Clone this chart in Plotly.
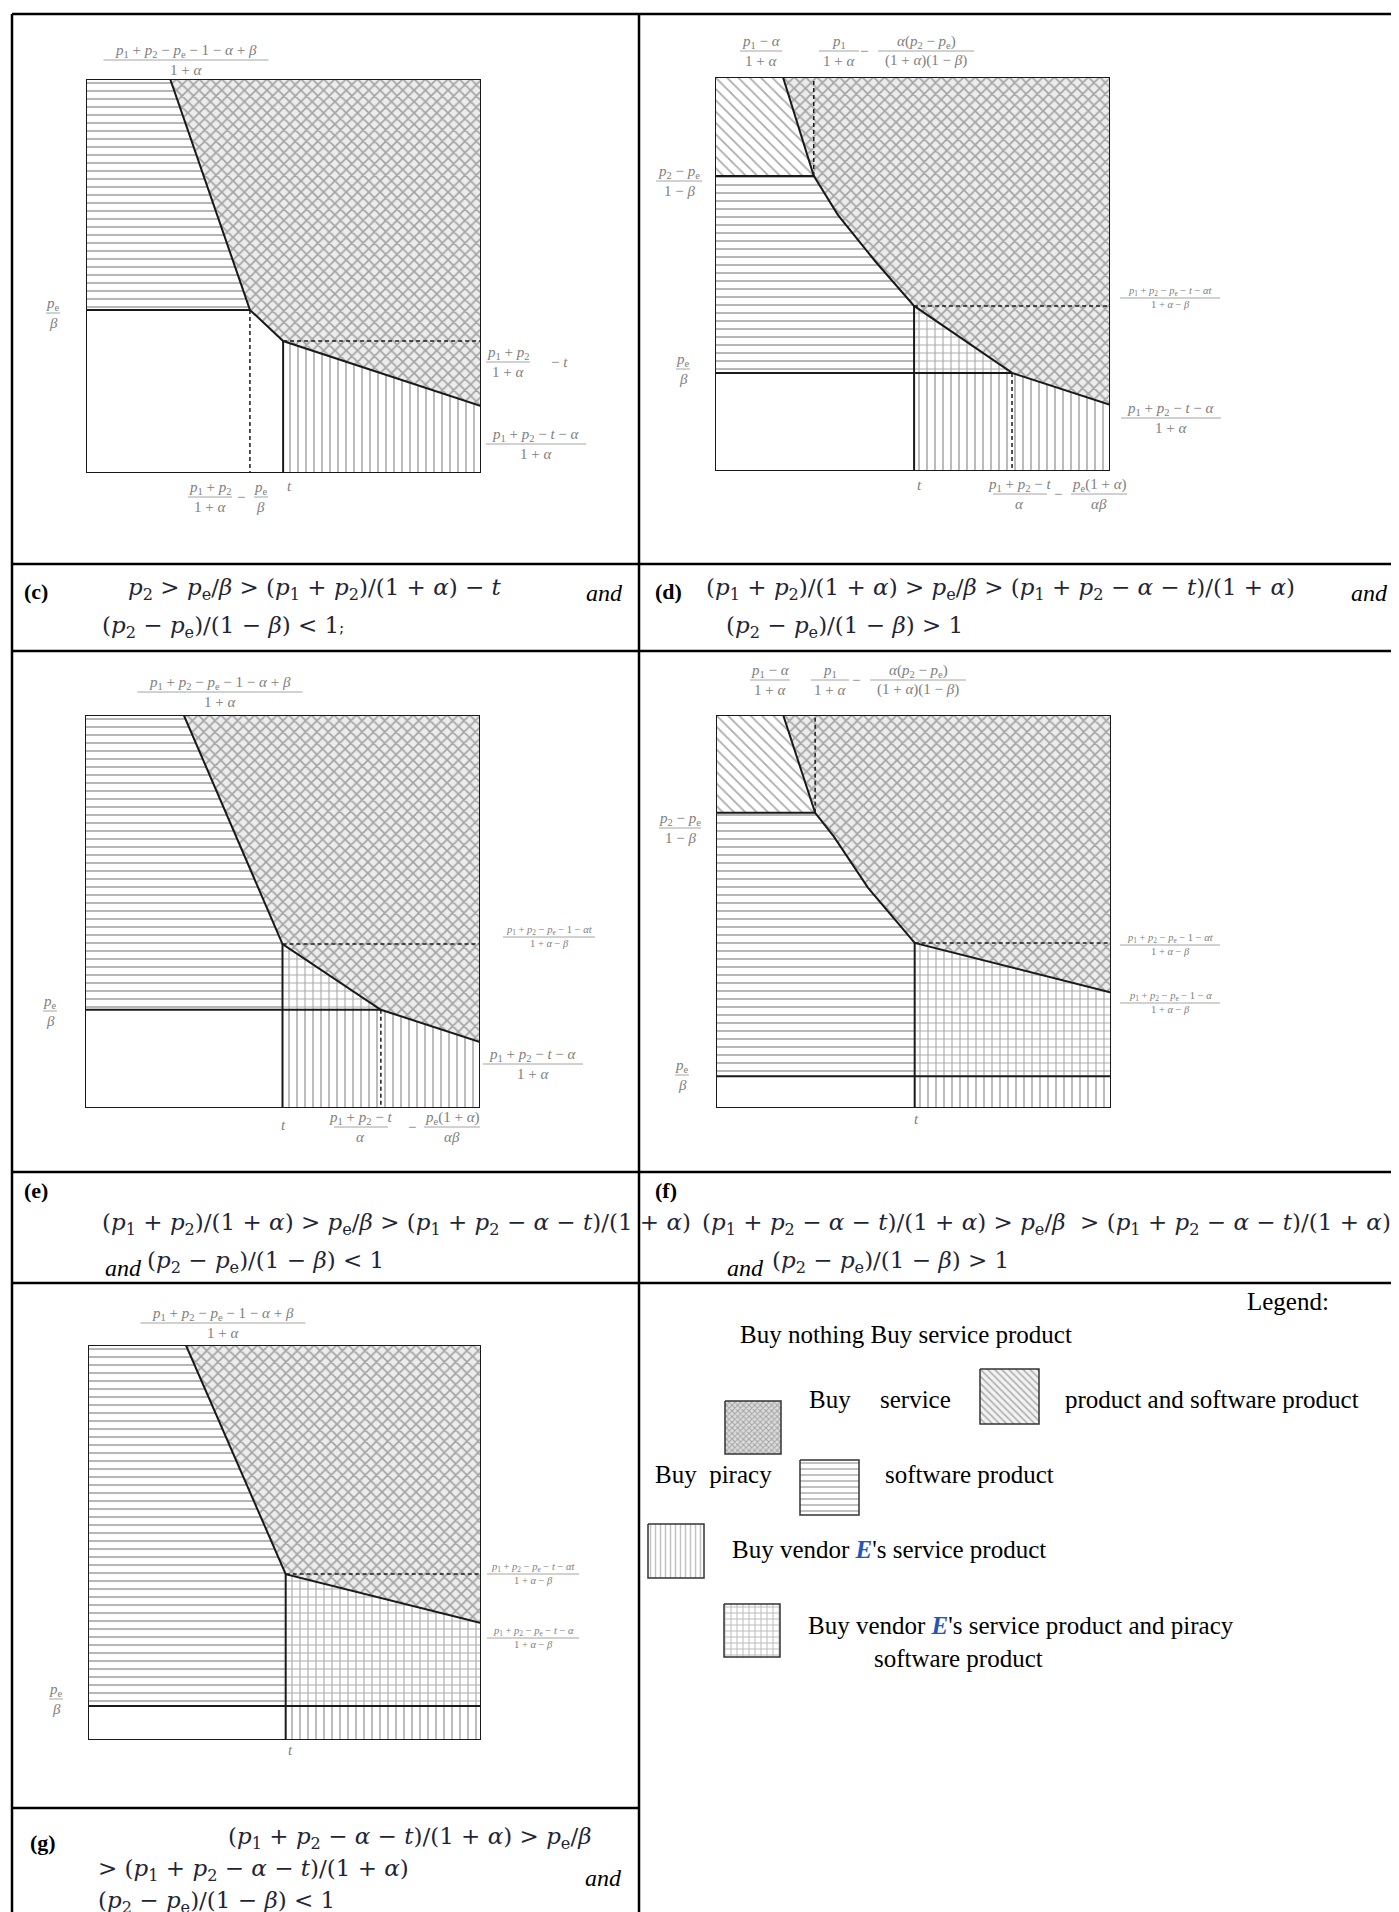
import plotly.graph_objects as go

W, H = 1399, 1912

# ---------------- values ----------------
# every panel is a unit square: x measured from the left edge, y from the bottom edge
c_frontier_x = [0.213, 0.415, 0.499, 1.000]
c_frontier_y = [1.000, 0.414, 0.335, 0.170]
c_t, c_pe_beta = 0.499, 0.414

d_frontier_x = [0.172, 0.213, 0.250, 0.311, 0.405, 0.504, 0.752, 1.000]
d_frontier_y = [1.000, 0.870, 0.749, 0.650, 0.533, 0.419, 0.249, 0.168]
d_t, d_pe_beta, d_ratio = 0.504, 0.249, 0.749

e_frontier_x = [0.250, 0.500, 0.749, 1.000]
e_frontier_y = [1.000, 0.417, 0.250, 0.168]
e_t, e_pe_beta = 0.500, 0.250

f_frontier_x = [0.170, 0.251, 0.298, 0.385, 0.503, 1.000]
f_frontier_y = [1.000, 0.751, 0.691, 0.560, 0.420, 0.294]
f_t, f_pe_beta, f_ratio = 0.503, 0.081, 0.751

g_frontier_x = [0.249, 0.503, 1.000]
g_frontier_y = [1.000, 0.420, 0.296]
g_t, g_pe_beta = 0.503, 0.086

legend_items = ["service", "diag", "piracy", "vendor", "grid"]

# ---------------- layout / styling ----------------
BOX = {"c": (78, 71, 473, 465), "d": (707, 69, 1102, 463), "e": (77, 707, 472, 1100),
       "f": (708, 707, 1103, 1100), "g": (80, 1337, 473, 1732)}
PANELS = ["c", "d", "e", "f", "g"]

PAT = {
    "service": dict(shape="x", size=8, solidity=0.38, fgcolor="#5c5c5c", bgcolor="#ececec"),
    "piracy": dict(shape="-", size=8, solidity=0.24, fgcolor="#666666", bgcolor="white"),
    "vendor": dict(shape="|", size=8, solidity=0.22, fgcolor="#666666", bgcolor="white"),
    "grid": dict(shape="+", size=8, solidity=0.26, fgcolor="#555555", bgcolor="white"),
    "diag": dict(shape="\\", size=8, solidity=0.22, fgcolor="#555555", bgcolor="white"),
}
SWATCH_PAT = {
    "service": dict(shape="x", size=4, solidity=0.45, fgcolor="#666666", bgcolor="#dedede"),
    "diag": dict(shape="\\", size=5, solidity=0.3, fgcolor="#666666", bgcolor="#f2f2f2"),
    "piracy": dict(shape="-", size=6, solidity=0.3, fgcolor="#777777", bgcolor="white"),
    "vendor": dict(shape="|", size=5, solidity=0.3, fgcolor="#888888", bgcolor="white"),
    "grid": dict(shape="+", size=6, solidity=0.3, fgcolor="#777777", bgcolor="white"),
}
SWATCH_BOX = {"service": (717, 1393, 773, 1446), "diag": (972, 1361, 1031, 1416),
              "piracy": (792, 1452, 851, 1507), "vendor": (640, 1516, 696, 1570),
              "grid": (716, 1596, 772, 1649)}

DASH = "4px,3px"


def build(name):
    """return (regions, lines) for a panel from its named values"""
    if name == "c":
        P = list(zip(c_frontier_x, c_frontier_y)); t, pe = c_t, c_pe_beta
        regions = [("piracy", [(0, 1)] + P[:2] + [(0, pe)]),
                   ("service", [(1, 1)] + P[::-1]),
                   ("vendor", P[2:] + [(1, 0), (t, 0)])]
        lines = [([(0, pe), P[1]], "solid"), ([P[1], (P[1][0], 0)], DASH),
                 ([(t, P[2][1]), (t, 0)], "solid"), ([P[2], (1, P[2][1])], DASH)]
    elif name == "d":
        P = list(zip(d_frontier_x, d_frontier_y)); t, pe, r = d_t, d_pe_beta, d_ratio
        regions = [("diag", [(0, 1)] + P[:3] + [(0, r)]),
                   ("piracy", [(0, r)] + P[2:6] + [(t, pe), (0, pe)]),
                   ("grid", P[5:7] + [(t, pe)]),
                   ("vendor", [(t, pe)] + P[6:] + [(1, 0), (t, 0)]),
                   ("service", [(1, 1)] + P[::-1])]
        lines = [([(0, r), P[2]], "solid"), ([P[2], (P[2][0], 1)], DASH),
                 ([P[5], (1, P[5][1])], DASH), ([(t, P[5][1]), (t, 0)], "solid"),
                 ([(0, pe), P[6]], "solid"), ([P[6], (P[6][0], 0)], DASH)]
    elif name == "e":
        P = list(zip(e_frontier_x, e_frontier_y)); t, pe = e_t, e_pe_beta
        regions = [("piracy", [(0, 1)] + P[:2] + [(t, pe), (0, pe)]),
                   ("grid", P[1:3] + [(t, pe)]),
                   ("vendor", [(t, pe)] + P[2:] + [(1, 0), (t, 0)]),
                   ("service", [(1, 1)] + P[::-1])]
        lines = [([P[1], (1, P[1][1])], DASH), ([(t, P[1][1]), (t, 0)], "solid"),
                 ([(0, pe), P[2]], "solid"), ([P[2], (P[2][0], 0)], DASH)]
    elif name == "f":
        P = list(zip(f_frontier_x, f_frontier_y)); t, pe, r = f_t, f_pe_beta, f_ratio
        regions = [("diag", [(0, 1)] + P[:2] + [(0, r)]),
                   ("piracy", [(0, r)] + P[1:5] + [(t, pe), (0, pe)]),
                   ("grid", P[4:] + [(1, pe), (t, pe)]),
                   ("vendor", [(t, pe), (1, pe), (1, 0), (t, 0)]),
                   ("service", [(1, 1)] + P[::-1])]
        lines = [([(0, r), P[1]], "solid"), ([P[1], (P[1][0], 1)], DASH),
                 ([P[4], (1, P[4][1])], DASH), ([(t, P[4][1]), (t, 0)], "solid"),
                 ([(0, pe), (1, pe)], "solid")]
    else:
        P = list(zip(g_frontier_x, g_frontier_y)); t, pe = g_t, g_pe_beta
        regions = [("piracy", [(0, 1)] + P[:2] + [(t, pe), (0, pe)]),
                   ("grid", P[1:] + [(1, pe), (t, pe)]),
                   ("vendor", [(t, pe), (1, pe), (1, 0), (t, 0)]),
                   ("service", [(1, 1)] + P[::-1])]
        lines = [([P[1], (1, P[1][1])], DASH), ([(t, P[1][1]), (t, 0)], "solid"),
                 ([(0, pe), (1, pe)], "solid")]
    lines.append((P, "solid"))
    lines.append(([(0, 0), (1, 0), (1, 1), (0, 1), (0, 0)], "solid"))
    return regions, lines


fig = go.Figure()
layout_axes = {}


def axref(i):
    return ("x", "y") if i == 1 else (f"x{i}", f"y{i}")


for i, name in enumerate(PANELS, start=1):
    xr, yr = axref(i)
    l, t, r, b = BOX[name]
    layout_axes["xaxis" if i == 1 else f"xaxis{i}"] = dict(domain=[l / W, r / W], range=[0, 1], visible=False, fixedrange=True)
    layout_axes["yaxis" if i == 1 else f"yaxis{i}"] = dict(domain=[1 - b / H, 1 - t / H], range=[0, 1], visible=False, fixedrange=True)
    regions, lines = build(name)
    for kind, pts in regions:
        xs = [p[0] for p in pts] + [pts[0][0]]
        ys = [p[1] for p in pts] + [pts[0][1]]
        fig.add_trace(go.Scatter(x=xs, y=ys, xaxis=xr, yaxis=yr, mode="lines",
                                 line=dict(width=0, color="rgba(0,0,0,0)"), fill="toself",
                                 fillcolor=PAT[kind]["bgcolor"], fillpattern=PAT[kind],
                                 hoverinfo="skip", showlegend=False))
    for pts, dash in lines:
        fig.add_trace(go.Scatter(x=[p[0] for p in pts], y=[p[1] for p in pts], xaxis=xr, yaxis=yr,
                                 mode="lines", line=dict(color="#1a1a1a", width=2 if dash == "solid" else 1.5, dash=dash),
                                 cliponaxis=False, hoverinfo="skip", showlegend=False))

# legend swatches on a full-page pixel axis
layout_axes["xaxis6"] = dict(domain=[0, 1], range=[0, W], visible=False, fixedrange=True)
layout_axes["yaxis6"] = dict(domain=[0, 1], range=[H, 0], visible=False, fixedrange=True)
for kind in legend_items:
    l, t, r, b = SWATCH_BOX[kind]
    fig.add_trace(go.Scatter(x=[l, r, r, l, l], y=[t, t, b, b, t], xaxis="x6", yaxis="y6", mode="lines",
                             line=dict(color="#333333", width=1.5), fill="toself",
                             fillcolor=SWATCH_PAT[kind]["bgcolor"], fillpattern=SWATCH_PAT[kind],
                             hoverinfo="skip", showlegend=False))

# ---------------- text ----------------
ann = []
shapes = []
LBL = "#808080"
SERIF = "Liberation Serif"
MATH = "DejaVu Serif"


def px(x):
    return x / W


def py(y):
    return 1 - y / H


def text(x, y, s, size=15, color=LBL, anchor="center", family=SERIF):
    ann.append(dict(x=px(x), y=py(y), xref="paper", yref="paper", text=s, showarrow=False,
                    xanchor=anchor, yanchor="middle", font=dict(family=family, size=size, color=color)))


def frac(xc, yb, num, den, w, size=15):
    text(xc, yb - 0.6 * size, num, size)
    text(xc, yb + 0.66 * size, den, size)
    shapes.append(dict(type="line", xref="paper", yref="paper", x0=px(xc - w / 2), x1=px(xc + w / 2),
                       y0=py(yb), y1=py(yb), line=dict(color="#9a9a9a", width=0.9)))


P1 = "<i>p</i><sub>1</sub>"
P2 = "<i>p</i><sub>2</sub>"
PE = "<i>p</i><sub>e</sub>"
A = "<i>α</i>"
B = "<i>β</i>"
T = "<i>t</i>"
SM = 10.5

TOP = f"{P1} + {P2} − {PE} − 1 − {A} + {B}"
# panel (c)
frac(178, 52, TOP, f"1 + {A}", 165)
frac(45, 305, PE, B, 14)
frac(500, 354, f"{P1} + {P2}", f"1 + {A}", 44)
text(551, 354, f"− {T}")
frac(528, 436, f"{P1} + {P2} − {T} − {A}", f"1 + {A}", 100)
frac(202, 489, f"{P1} + {P2}", f"1 + {A}", 44)
text(233, 489, "−")
frac(253, 489, PE, B, 14)
text(281, 478, T)
# panel (d)
frac(753, 43, f"{P1} − {A}", f"1 + {A}", 42)
frac(831, 43, P1, f"1 + {A}", 40)
text(856, 43, "−")
frac(918, 43, f"{A}({P2} − {PE})", f"(1 + {A})(1 − {B})", 96)
frac(671, 173, f"{P2} − {PE}", f"1 − {B}", 46)
frac(675, 361, PE, B, 14)
frac(1162, 290, f"{P1} + {P2} − {PE} − {T} − {A}{T}", f"1 + {A} − {B}", 100, size=SM)
frac(1163, 410, f"{P1} + {P2} − {T} − {A}", f"1 + {A}", 100)
text(912, 477, T)
frac(1012, 486, f"{P1} + {P2} − {T}", A, 54)
text(1050, 486, "−")
frac(1091, 486, f"{PE}(1 + {A})", f"{A}{B}", 56)
# panel (e)
frac(212, 684, TOP, f"1 + {A}", 165)
frac(42, 1003, PE, B, 14)
frac(541, 929, f"{P1} + {P2} − {PE} − 1 − {A}{T}", f"1 + {A} − {B}", 92, size=SM)
frac(525, 1056, f"{P1} + {P2} − {T} − {A}", f"1 + {A}", 100)
text(275, 1117, T)
frac(353, 1119, f"{P1} + {P2} − {T}", A, 54)
text(404, 1119, "−")
frac(444, 1119, f"{PE}(1 + {A})", f"{A}{B}", 56)
# panel (f)
frac(762, 672, f"{P1} − {A}", f"1 + {A}", 40)
frac(822, 672, P1, f"1 + {A}", 38)
text(848, 672, "−")
frac(910, 672, f"{A}({P2} − {PE})", f"(1 + {A})(1 − {B})", 96)
frac(672, 820, f"{P2} − {PE}", f"1 − {B}", 42)
frac(674, 1067, PE, B, 14)
frac(1162, 937, f"{P1} + {P2} − {PE} − 1 − {A}{T}", f"1 + {A} − {B}", 100, size=SM)
frac(1162, 995, f"{P1} + {P2} − {PE} − 1 − {A}", f"1 + {A} − {B}", 100, size=SM)
text(908, 1111, T)
# panel (g)
frac(215, 1315, TOP, f"1 + {A}", 165)
frac(48, 1691, PE, B, 14)
frac(525, 1566, f"{P1} + {P2} − {PE} − {T} − {A}{T}", f"1 + {A} − {B}", 92, size=SM)
frac(525, 1630, f"{P1} + {P2} − {PE} − {T} − {A}", f"1 + {A} − {B}", 92, size=SM)
text(282, 1742, T)

# captions
CAPC = "#1f2536"
CS = 23


def cap(x, y, s, size=CS, color=CAPC, family=MATH):
    text(x, y, s, size=size, color=color, anchor="left", family=family)


def conj(x, y):
    text(x, y, "<i>and</i>", size=24, color="black", anchor="left", family=SERIF)


def tag(x, y, s):
    text(x, y, f"<b>{s}</b>", size=22, color="black", anchor="left", family=SERIF)


tag(14, 583, "(c)")
cap(118, 581, f"{P2} &gt; {PE}/{B} &gt; ({P1} + {P2})/(1 + {A}) − {T}")
conj(576, 585)
cap(92, 619, f"({P2} − {PE})/(1 − {B}) &lt; 1<span style='font-size:14px;color:black'>;</span>")

tag(645, 583, "(d)")
cap(696, 581, f"({P1} + {P2})/(1 + {A}) &gt; {PE}/{B} &gt; ({P1} + {P2} − {A} − {T})/(1 + {A})")
conj(1341, 585)
cap(716, 619, f"({P2} − {PE})/(1 − {B}) &gt; 1")

tag(14, 1182, "(e)")
cap(92, 1216, f"({P1} + {P2})/(1 + {A}) &gt; {PE}/{B} &gt; ({P1} + {P2} − {A} − {T})/(1 + {A})")
conj(95, 1260)
cap(137, 1254, f"({P2} − {PE})/(1 − {B}) &lt; 1")

tag(645, 1182, "(f)")
cap(692, 1216, f"({P1} + {P2} − {A} − {T})/(1 + {A}) &gt; {PE}/{B}  &gt; ({P1} + {P2} − {A} − {T})/(1 + {A})")
conj(717, 1260)
cap(762, 1254, f"({P2} − {PE})/(1 − {B}) &gt; 1")

tag(20, 1834, "(g)")
cap(218, 1830, f"({P1} + {P2} − {A} − {T})/(1 + {A}) &gt; {PE}/{B}")
cap(88, 1862, f"&gt; ({P1} + {P2} − {A} − {T})/(1 + {A})")
conj(575, 1870)
cap(88, 1894, f"({P2} − {PE})/(1 − {B}) &lt; 1")

# legend text
LS = 25
EV = "<span style='color:#2456b8'><b><i>E</i></b></span>"
BLK = "black"
text(1237, 1293, "Legend:", size=LS, color=BLK, anchor="left")
text(730, 1326, "Buy nothing Buy service product", size=LS, color=BLK, anchor="left")
text(799, 1391, "Buy", size=LS, color=BLK, anchor="left")
text(870, 1391, "service", size=LS, color=BLK, anchor="left")
text(1055, 1391, "product and software product", size=LS, color=BLK, anchor="left")
text(645, 1466, "Buy  piracy", size=LS, color=BLK, anchor="left")
text(875, 1466, "software product", size=LS, color=BLK, anchor="left")
text(722, 1541, f"Buy vendor {EV}'s service product", size=LS, color=BLK, anchor="left")
text(798, 1617, f"Buy vendor {EV}'s service product and piracy", size=LS, color=BLK, anchor="left")
text(864, 1650, "software product", size=LS, color=BLK, anchor="left")

# table rules
TL = dict(color="black", width=2.5)


def rule(x0, y0, x1, y1):
    shapes.append(dict(type="line", xref="paper", yref="paper", x0=px(x0), y0=py(y0), x1=px(x1), y1=py(y1), line=TL))


rule(4, 6, 1394, 6)
rule(4, 6, 4, 1912)
rule(1394, 6, 1394, 1912)
rule(631, 6, 631, 1912)
for yy in [556, 643, 1164, 1275]:
    rule(4, yy, 1394, yy)
rule(4, 1800, 631, 1800)

fig.update_layout(width=W, height=H, margin=dict(l=0, r=0, t=0, b=0), paper_bgcolor="white",
                  plot_bgcolor="rgba(0,0,0,0)", showlegend=False, hovermode=False,
                  annotations=ann, shapes=shapes, **layout_axes)
fig.write_html("out.html", config={"displayModeBar": False})
